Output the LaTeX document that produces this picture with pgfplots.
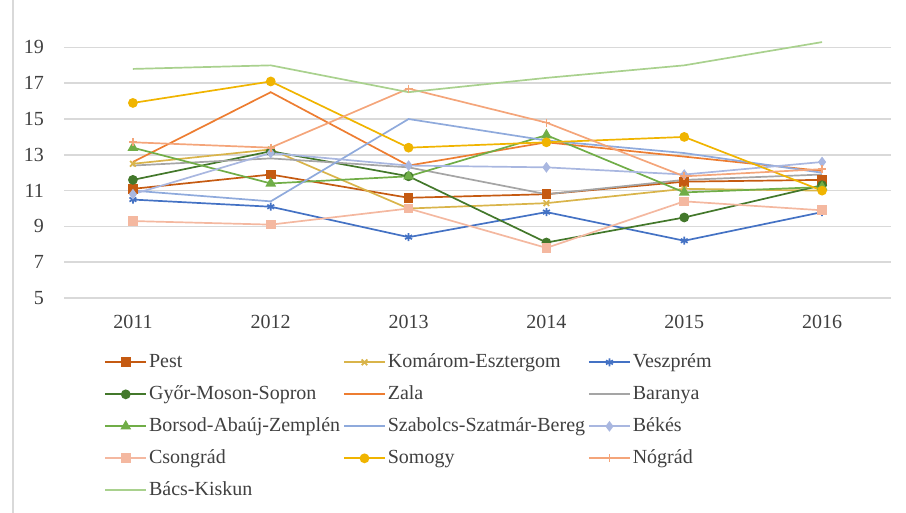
\documentclass[border=0pt]{standalone}
\usepackage{pgfplots}
\pgfplotsset{compat=1.18}
\usepackage{fontspec}
\setmainfont{Liberation Serif}

\definecolor{cPest}{HTML}{C55A11}
\definecolor{cKom}{HTML}{D9B44A}
\definecolor{cVesz}{HTML}{4472C4}
\definecolor{cGyor}{HTML}{43782B}
\definecolor{cZala}{HTML}{ED7D31}
\definecolor{cBar}{HTML}{A5A5A5}
\definecolor{cBors}{HTML}{70AD47}
\definecolor{cSzab}{HTML}{8FAADC}
\definecolor{cBekes}{HTML}{A9B7E0}
\definecolor{cCsong}{HTML}{F4B8A0}
\definecolor{cSomogy}{HTML}{F0B400}
\definecolor{cNograd}{HTML}{F4A57A}
\definecolor{cBacs}{HTML}{A9D18E}
\definecolor{cGrid}{HTML}{D9D9D9}
\definecolor{cText}{HTML}{404040}

\begin{document}
\begin{tikzpicture}
\path[use as bounding box] (0,0) rectangle (453pt,-256.5pt);
\draw[cGrid, line width=0.6pt] (6.5pt,0pt) -- (6.5pt,-256.5pt);
\begin{axis}[
    at={(32pt,-149pt)}, anchor=south west,
    scale only axis, width=413.5pt, height=129.75pt,
    xmin=2010.5, xmax=2016.5, ymin=5, ymax=19.5,
    xtick={2011,2012,2013,2014,2015,2016},
    ytick={5,7,9,11,13,15,17,19},
    /pgf/number format/1000 sep={},
    /pgf/number format/assume math mode=true,
    axis line style={draw=none},
    major tick length=0pt,
    ymajorgrids, grid style={cGrid, line width=0.75pt},
    tick label style={font=\fontsize{10}{12}\selectfont, text=cText},
    yticklabel style={xshift=-6.5pt},
    xticklabel style={yshift=-5pt},
    every axis plot/.append style={line width=0.85pt},
    mark options={solid},
    legend columns=3,
    legend cell align=left,
    legend style={at={(0.0484,-0.204)}, anchor=north west, draw=none,
        fill=none, inner sep=0pt, row sep=5pt,
        font=\fontsize{10}{12}\selectfont, text=cText,
        nodes={inner sep=1pt, text height=7pt, text depth=2pt},
        /tikz/every even column/.append style={column sep=0.5pt}},
    legend image code/.code={\draw[mark repeat=2,mark phase=2]
        plot coordinates {(0cm,0cm) (0.36cm,0cm) (0.72cm,0cm)};},
]
\addplot[cPest, mark=square*, mark size=2pt] coordinates
  {(2011,11.1) (2012,11.9) (2013,10.6) (2014,10.8) (2015,11.5) (2016,11.6)};
\addlegendentry{Pest}
\addplot[cKom, mark=x, mark size=2pt] coordinates
  {(2011,12.5) (2012,13.3) (2013,10.0) (2014,10.3) (2015,11.1) (2016,11.0)};
\addlegendentry{Komárom-Esztergom}
\addplot[cVesz, mark=asterisk, mark size=2pt] coordinates
  {(2011,10.5) (2012,10.1) (2013,8.4) (2014,9.8) (2015,8.2) (2016,9.8)};
\addlegendentry{Veszprém}
\addplot[cGyor, mark=*, mark size=2pt] coordinates
  {(2011,11.6) (2012,13.2) (2013,11.8) (2014,8.1) (2015,9.5) (2016,11.3)};
\addlegendentry{Győr-Moson-Sopron}
\addplot[cZala] coordinates
  {(2011,12.6) (2012,16.5) (2013,12.4) (2014,13.7) (2015,12.9) (2016,12.1)};
\addlegendentry{Zala}
\addplot[cBar] coordinates
  {(2011,12.4) (2012,12.8) (2013,12.3) (2014,10.8) (2015,11.6) (2016,11.9)};
\addlegendentry{Baranya}
\addplot[cBors, mark=triangle*, mark size=2.3pt] coordinates
  {(2011,13.4) (2012,11.4) (2013,11.8) (2014,14.1) (2015,10.9) (2016,11.2)};
\addlegendentry{Borsod-Abaúj-Zemplén}
\addplot[cSzab] coordinates
  {(2011,11.0) (2012,10.4) (2013,15.0) (2014,13.8) (2015,13.1) (2016,12.0)};
\addlegendentry{Szabolcs-Szatmár-Bereg}
\addplot[cBekes, mark=diamond*, mark size=2pt] coordinates
  {(2011,10.8) (2012,13.1) (2013,12.4) (2014,12.3) (2015,11.9) (2016,12.6)};
\addlegendentry{Békés}
\addplot[cCsong, mark=square*, mark size=2pt] coordinates
  {(2011,9.3) (2012,9.1) (2013,10.0) (2014,7.8) (2015,10.4) (2016,9.9)};
\addlegendentry{Csongrád}
\addplot[cSomogy, mark=*, mark size=2pt] coordinates
  {(2011,15.9) (2012,17.1) (2013,13.4) (2014,13.7) (2015,14.0) (2016,11.0)};
\addlegendentry{Somogy}
\addplot[cNograd, mark=+, mark size=2pt] coordinates
  {(2011,13.7) (2012,13.4) (2013,16.7) (2014,14.8) (2015,11.8) (2016,12.2)};
\addlegendentry{Nógrád}
\addplot[cBacs] coordinates
  {(2011,17.8) (2012,18.0) (2013,16.5) (2014,17.3) (2015,18.0) (2016,19.3)};
\addlegendentry{Bács-Kiskun}
\end{axis}
\end{tikzpicture}
\end{document}
